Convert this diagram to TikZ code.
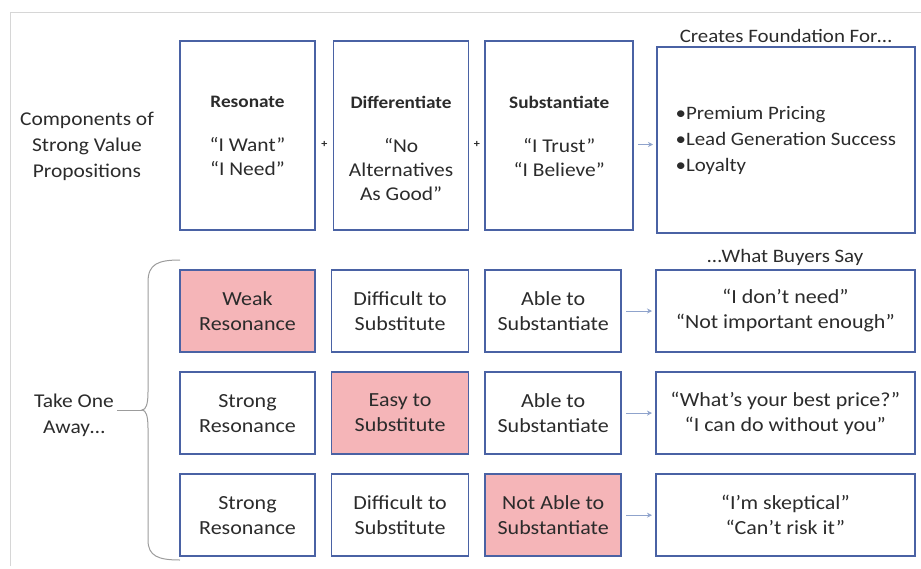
\documentclass[tikz,border=0pt]{standalone}
\usepackage{fontspec}
\setmainfont{Carlito}[FakeStretch=1.1]
\usetikzlibrary{arrows.meta,positioning,calc}
\definecolor{boxblue}{HTML}{4A62A4}
\definecolor{weakpink}{HTML}{F5B5B8}
\definecolor{arrowgray}{HTML}{8FA3CC}
\definecolor{framegray}{HTML}{D6D6D6}
\definecolor{bracegray}{HTML}{9C9C9C}
\definecolor{txtgray}{HTML}{2B2B2B}

\begin{document}
\begin{tikzpicture}[
  x=1pt, y=-1pt,
  node distance=18.5pt and 15pt,
  topbox/.style={draw=boxblue, line width=1.6pt, minimum width=135pt, minimum height=189pt},
  toptext/.style={align=center, inner sep=0pt, text=txtgray, font=\fontsize{19.5}{24}\selectfont},
  cell/.style={draw=boxblue, line width=1.6pt, align=center, minimum width=135pt, minimum height=82pt, text=txtgray, font=\fontsize{20}{25}\selectfont},
  weak/.style={cell, fill=weakpink},
  side/.style={align=center, text=txtgray, font=\fontsize{19.5}{26}\selectfont},
  plus/.style={inner sep=0pt, text=txtgray, font=\bfseries\fontsize{11}{11}\selectfont},
  arr/.style={-{Stealth[length=5pt,width=5pt]}, draw=arrowgray, line width=1pt, shorten <=4pt, shorten >=3pt}
]
\useasboundingbox (0,0) rectangle (921,568);
\draw[framegray, line width=1pt] (10,566) -- (10,12) -- (921,12);

% top row
\node[topbox] (res) at (247.5,135.5) {};
\node[topbox, right=17pt of res] (dif) {};
\node[topbox, right=15pt of dif, minimum width=148pt] (sub) {};
\node[topbox, right=22pt of sub, minimum width=258pt, minimum height=186pt, yshift=-4.5pt, align=left, text=txtgray, font=\fontsize{19}{26}\selectfont] (fnd) {•Premium Pricing\\•Lead Generation Success\\•Loyalty};

\node[toptext, below=56pt of res.north] (restxt) {{\bfseries\fontsize{17.5}{24}\selectfont Resonate}\\[20pt]“I Want”\\“I Need”};
\node[toptext, below=56pt of dif.north] (diftxt) {{\bfseries\fontsize{17.5}{24}\selectfont Differentiate}\\[20pt]“No\\Alternatives\\As Good”};
\node[toptext, below=56pt of sub.north] (subtxt) {{\bfseries\fontsize{17.5}{24}\selectfont Substantiate}\\[20pt]“I Trust”\\“I Believe”};

\node[plus] (p1) at ($(res.east)!0.5!(dif.west)+(0,9)$) {+};
\node[plus] (p2) at ($(dif.east)!0.5!(sub.west)+(0,9)$) {+};
\draw[arr] (sub.east |- p2) -- (fnd.west |- p2);

\node[side, above=0pt of fnd, font=\fontsize{19}{20}\selectfont] (creates) {Creates Foundation For…};
\node[side] (comp) at (87,146) {Components of\\Strong Value\\Propositions};

% take one away grid
\node[weak] (w1) at (247.5,311) {Weak\\Resonance};
\node[cell, right=of w1, minimum width=137pt] (d1) {Difficult to\\Substitute};
\node[cell, right=of d1, minimum width=136pt] (a1) {Able to\\Substantiate};
\node[cell, right=33pt of a1, minimum width=259pt] (s1) {“I don’t need”\\“Not important enough”};

\node[cell, below=of w1] (w2) {Strong\\Resonance};
\node[weak, right=of w2, minimum width=137pt] (d2) {Easy to\\Substitute};
\node[cell, right=of d2, minimum width=136pt] (a2) {Able to\\Substantiate};
\node[cell, right=33pt of a2, minimum width=259pt] (s2) {“What’s your best price?”\\“I can do without you”};

\node[cell, below=of w2] (w3) {Strong\\Resonance};
\node[cell, right=of w3, minimum width=137pt] (d3) {Difficult to\\Substitute};
\node[weak, right=of d3, minimum width=136pt] (a3) {Not Able to\\Substantiate};
\node[cell, right=33pt of a3, minimum width=259pt] (s3) {“I’m skeptical”\\“Can’t risk it”};

\draw[arr] (a1) -- (s1);
\draw[arr] (a2) -- (s2);
\draw[arr] (a3) -- (s3);

\node[side, above=0pt of s1, font=\fontsize{19}{20}\selectfont] (buyers) {…What Buyers Say};

% brace
\node[side] (away) at (74,415) {Take One\\Away…};
\coordinate (tip) at (142,410);
\draw[bracegray, line width=1pt] (180,260) .. controls (158,260) and (148,264) .. (148,282) -- (148,392)
  .. controls (148,404) and (146,410) .. (tip) .. controls (146,410) and (148,416) .. (148,428)
  -- (148,540) .. controls (148,556) and (158,560) .. (180,560);
\draw[bracegray, line width=1pt] (away.east |- tip) -- (tip);
\end{tikzpicture}
\end{document}
